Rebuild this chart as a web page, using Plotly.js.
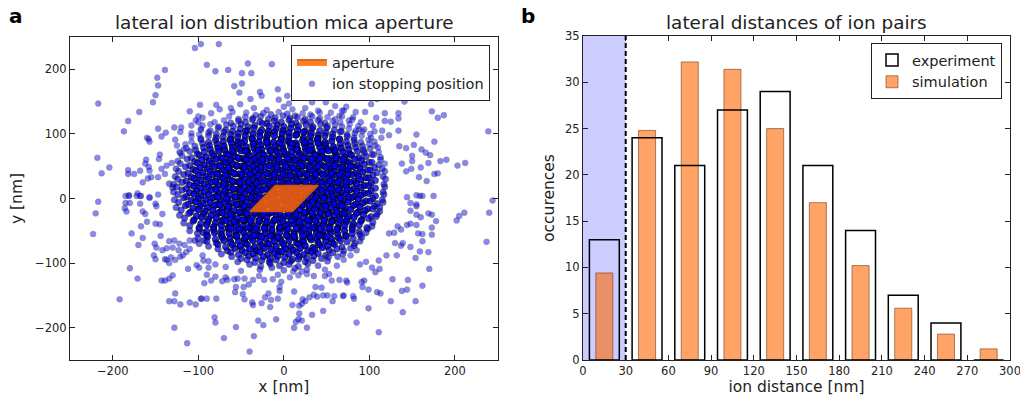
<!DOCTYPE html>
<html><head><meta charset="utf-8">
<script src="https://cdn.plot.ly/plotly-3.0.1.min.js"></script>
<style>html,body{margin:0;padding:0;background:#fff}#chart{width:1020px;height:398px}</style>
</head><body><div id="chart"></div>
<script>
// ---------- panel a : ion stopping positions (x,y pairs in nm, read/estimated from the picture) ----------
const ionOuterXY=[
-104,233,-97,239,-90,207,-139,199,-148,187,-147,175,-150,160,-153,149,-217,147,-169,134,-182,120,-187,104,-147,108,-138,102,-143,96,-160,94,-158,92,-157,88,-218,63,-204,48,-213,39,-182,44,-182,38,-175,38,-168,43,-161,60,-162,54,-158,49,-165,25,-159,31,-155,33,-181,5,-171,8,-168,4,-157,2,-128,110,-120,110,-121,103,-110,135,-98,145,-108,113,-103,121,-100,127,-97,106,-127,91,-125,82,-117,76,-122,72,-145,68,-146,61,-137,51,-131,55,-143,46,-147,33,-139,38,-134,23,-130,17,-157,43,
-76,239,-80,197,-65,199,-49,194,-42,209,-38,194,-14,208,-58,174,-49,178,-52,164,-28,165,-26,159,-39,154,-51,146,-62,140,-79,145,-7,169,-6,153,4,159,6,147,16,159,33,149,49,149,60,143,70,136,73,159,
141,150,116,159,109,154,102,146,95,134,81,126,72,156,173,135,180,125,187,129,239,104,134,132,134,124,125,119,118,132,134,105,123,98,135,81,143,78,152,83,155,99,161,76,176,88,166,71,171,67,183,58,190,60,203,51,212,55,160,48,169,55,176,38,180,39,158,33,167,27,155,5,162,4,175,4,150,66,150,58,138,54,143,42,149,46,115,105,106,104,104,113,108,125,118,120,114,94,88,107,84,134,73,142,68,136,
244,-3,240,-22,237,-67,211,-22,205,-27,202,-34,178,-35,169,-23,173,-25,173,-45,173,-56,162,-66,169,-83,159,-82,154,-92,170,-109,162,-135,154,-159,145,-126,144,-141,138,-143,139,-176,125,-159,127,-125,99,-170,85,-192,111,-207,82,-155,99,-141,92,-137,91,-129,94,-127,113,-147,109,-145,107,-114,103,-107,148,-75,137,-73,139,-69,130,-69,132,-88,123,-54,129,-53,137,-48,144,-41,148,-39,155,-41,157,-54,162,-55,155,-25,160,-29,155,-12,148,-19,159,4,133,-43,120,-88,111,-96,112,-109,96,-98,89,-102,74,-130,69,-151,81,-151,144,2,148,-7,155,-9,
-217,-5,-220,-23,-223,-55,-185,4,-181,4,-185,-7,-180,-7,-186,-15,-184,-20,-178,-54,-170,-72,-180,-108,-171,-124,-192,-156,-172,4,-167,4,-168,-8,-165,-20,-162,-24,-160,-36,-167,-43,-165,-61,-157,1,-150,-8,-147,6,-149,-12,-150,-39,-145,-40,-144,-58,-151,-70,-149,-76,-152,-88,-150,-94,-142,-24,-142,-80,-139,-94,-143,-127,-139,-127,-134,-124,-130,-119,-127,-147,-134,-159,-128,-159,-121,-164,-110,-161,-103,-164,-97,-155,-112,-109,-102,-103,-93,-131,-90,-118,-128,-200,-113,-224,-134,-100,-132,-91,-137,-95,-127,-95,-121,-90,-118,-88,-114,-83,-110,-78,-137,-77,-130,-76,-123,-80,-134,-66,-128,-65,-122,-70,-116,-72,-110,-65,-104,-65,-99,-70,-93,-65,-94,-53,-94,-96,-99,-107,-88,-107,
-40,-237,-70,-216,-35,-213,-56,-199,-81,-184,-80,-192,-30,-189,-24,-196,-9,-187,12,-200,14,-191,17,-187,18,-178,21,-189,27,-200,33,-180,46,-174,51,-150,46,-150,39,-152,35,-149,30,-153,25,-159,21,-163,18,-166,22,-156,37,-137,44,-138,57,-159,59,-151,70,-150,73,-127,65,-126,56,-127,53,-117,48,-120,35,-120,27,-117,21,-113,17,-119,12,-144,10,-165,-5,-143,-7,-155,-15,-157,-16,-168,-22,-153,-18,-147,-26,-162,-37,-161,-36,-165,-48,-148,-46,-156,-57,-145,-56,-137,-47,-137,-41,-133,-46,-124,-54,-124,-68,-122,-72,-128,-80,-121,-85,-127,-96,-155,-90,-155,-79,-155,-66,-126,-58,-125,-36,-126,-29,-120,-23,-126,-13,-125,-7,-118,-3,-129,-5,-137,7,-122,11,-113,
-88,-97,-80,-102,-95,-88,70,-95,78,-88,62,-104,-68,-106,48,-110,-50,-112,85,-80,-85,132,-75,138,-60,134,-35,140,-20,137,0,142,10,138,25,140,40,136,55,133,65,128,80,122,90,118,-95,125,-100,118
];
const ionCoreXY=[
-44,133,-33,129,-24,132,-15,130,-6,134,4,131,13,128,22,132,31,130,42,133,
-64,127,-53,123,-45,126,-36,124,-27,127,-18,123,-10,125,-1,128,7,124,16,126,25,123,33,127,42,124,51,126,60,123,68,127,
-81,118,-70,121,-62,117,-53,120,-45,118,-37,122,-28,119,-20,116,-11,120,-3,118,6,121,14,117,23,120,31,118,40,121,48,117,57,120,66,118,76,121,
-95,113,-86,115,-76,111,-67,114,-59,112,-50,115,-42,111,-34,113,-25,116,-17,112,-8,114,0,111,9,115,17,112,26,114,34,111,43,115,51,112,60,114,68,111,77,115,87,112,
-97,108,-86,105,-77,109,-68,106,-60,104,-51,108,-43,105,-35,109,-26,106,-18,104,-9,108,-1,105,8,109,16,106,25,104,33,108,42,105,50,109,59,106,67,104,76,108,84,105,94,107,
-108,101,-99,99,-88,102,-79,100,-70,103,-62,99,-53,101,-45,104,-36,100,-28,102,-19,99,-11,103,-2,100,6,102,15,99,23,103,32,101,40,98,49,102,57,100,66,103,74,99,83,101,92,104,101,100,
-108,96,-97,93,-88,97,-79,94,-71,96,-62,92,-54,95,-45,97,-37,93,-28,96,-20,94,-11,97,-3,93,6,95,14,98,23,94,31,96,40,93,48,97,57,95,65,92,74,96,82,94,91,97,102,94,
-108,88,-97,91,-88,87,-80,90,-71,88,-63,91,-54,87,-46,89,-37,92,-29,88,-20,90,-12,87,-3,91,5,89,14,86,22,90,31,88,39,91,48,87,56,89,65,92,73,88,82,90,90,87,99,91,106,88,
-115,84,-104,81,-95,85,-87,82,-78,84,-70,81,-61,85,-53,83,-44,80,-36,84,-27,82,-19,85,-10,81,-2,83,7,86,15,82,24,84,32,81,41,85,49,83,58,80,66,84,75,82,83,85,92,81,100,84,107,82,
-114,78,-103,75,-94,79,-86,76,-77,78,-69,75,-60,79,-52,77,-43,74,-35,78,-26,76,-18,79,-9,75,-1,77,8,80,16,76,25,78,33,75,42,79,50,77,59,74,67,78,76,76,84,79,93,75,101,77,110,79,
-121,70,-110,73,-101,69,-93,72,-84,70,-76,73,-67,69,-59,71,-50,74,-42,70,-33,72,-25,69,-16,73,-8,71,1,68,9,72,18,70,26,73,35,69,43,71,52,74,60,70,69,72,77,69,86,73,94,71,103,68,111,72,
-119,66,-108,63,-99,67,-91,64,-82,66,-74,63,-65,67,-57,65,-48,62,-40,66,-31,64,-23,67,-14,63,-6,65,3,68,11,64,20,66,28,63,37,67,45,65,54,62,62,66,71,64,79,67,88,63,96,65,105,68,113,64,
-124,58,-113,61,-104,57,-96,60,-87,58,-79,61,-70,57,-62,59,-53,62,-45,58,-36,60,-28,57,-19,61,-11,59,-2,56,6,60,15,58,23,61,32,57,40,59,49,62,57,58,66,60,74,57,83,61,91,59,100,56,113,60,
-121,54,-110,51,-101,55,-93,52,-84,54,-76,51,-67,55,-59,53,-50,50,-42,54,-33,52,-25,55,-16,51,-8,53,1,56,9,52,18,54,26,51,35,55,43,53,52,50,60,54,69,52,77,55,86,51,94,53,103,56,111,52,118,54,
-126,46,-115,49,-106,45,-98,48,-89,46,-81,49,-72,45,-64,47,-55,50,-47,46,-38,48,-30,45,-21,49,-13,47,-4,44,4,48,13,46,21,49,30,45,38,47,47,50,55,46,64,48,72,45,81,49,89,47,98,44,106,48,115,46,
-123,42,-112,39,-103,43,-95,40,-86,42,-78,39,-69,43,-61,41,-52,38,-44,42,-35,40,-27,43,-18,39,-10,41,-1,44,7,40,16,42,24,39,33,43,41,41,50,38,58,42,67,40,75,43,84,39,92,41,101,44,109,40,118,42,
-127,34,-117,37,-108,33,-100,36,-91,34,-83,37,-74,33,-66,35,-57,38,-49,34,-40,36,-32,33,-23,37,-15,35,-6,32,2,36,11,34,19,37,28,33,36,35,45,38,53,34,62,36,70,33,79,37,87,35,96,32,104,36,116,34,
-124,30,-114,27,-105,31,-97,28,-88,30,-80,27,-71,31,-63,29,-54,26,-46,30,-37,28,-29,31,-20,27,-12,29,-3,32,5,28,14,30,22,27,31,31,39,29,48,26,56,30,65,28,73,31,82,27,90,29,99,32,107,28,119,30,
-129,22,-119,25,-110,21,-102,24,-93,22,-85,25,-76,21,-68,23,-59,26,-51,22,-42,24,-34,21,-25,25,-17,23,-8,20,0,24,9,22,17,25,26,21,34,23,43,26,51,22,60,24,68,21,77,25,85,23,94,20,102,24,117,22,
-125,18,-114,15,-105,19,-97,16,-88,18,-80,15,-71,19,-63,17,-54,14,-46,18,-37,16,-29,19,-20,15,-12,17,-3,20,5,16,14,18,22,15,31,19,39,17,48,14,56,18,65,16,73,19,82,15,90,17,99,20,107,16,118,18,
-129,10,-119,13,-110,9,-102,12,-93,10,-85,13,-76,9,-68,11,-59,14,-51,10,-42,12,-34,9,-25,13,-17,11,-8,8,0,12,9,10,17,13,26,9,34,11,43,14,51,10,60,12,68,9,77,13,85,11,94,8,102,12,116,10,
-124,6,-114,3,-105,7,-97,4,-88,6,-80,3,-71,7,-63,5,-54,2,-46,6,-37,4,-29,7,-20,3,-12,5,-3,8,5,4,14,6,22,3,31,7,39,5,48,2,56,6,65,4,73,7,82,3,90,5,99,8,107,4,117,6,
-128,-2,-117,1,-108,-3,-100,0,-91,-2,-83,1,-74,-3,-66,-1,-57,2,-49,-2,-40,0,-32,-3,-23,1,-15,-1,-6,-4,2,0,11,-2,19,1,28,-3,36,-1,45,2,53,-2,62,0,70,-3,79,1,87,-1,96,-4,104,0,115,-2,
-123,-6,-112,-9,-103,-5,-95,-8,-86,-6,-78,-9,-69,-5,-61,-7,-52,-10,-44,-6,-35,-8,-27,-5,-18,-9,-10,-7,-1,-4,7,-8,16,-6,24,-9,33,-5,41,-7,50,-10,58,-6,67,-8,75,-5,84,-9,92,-7,101,-4,109,-8,116,-6,
-126,-14,-115,-11,-106,-15,-98,-12,-89,-14,-81,-11,-72,-15,-64,-13,-55,-10,-47,-14,-38,-12,-30,-15,-21,-11,-13,-13,-4,-16,4,-12,13,-14,21,-11,30,-15,38,-13,47,-10,55,-14,64,-12,72,-15,81,-11,89,-13,98,-16,106,-12,112,-14,
-120,-18,-109,-21,-100,-17,-92,-20,-83,-18,-75,-21,-66,-17,-58,-19,-49,-22,-41,-18,-32,-20,-24,-17,-15,-21,-7,-19,2,-16,10,-20,19,-18,27,-21,36,-17,44,-19,53,-22,61,-18,70,-20,78,-17,87,-21,95,-19,104,-16,112,-20,
-122,-26,-111,-23,-102,-27,-94,-24,-85,-26,-77,-23,-68,-27,-60,-25,-51,-22,-43,-26,-34,-24,-26,-27,-17,-23,-9,-25,0,-28,8,-24,17,-26,25,-23,34,-27,42,-25,51,-22,59,-26,68,-24,76,-27,85,-23,93,-25,102,-28,109,-24,
-116,-30,-105,-33,-96,-29,-88,-32,-79,-30,-71,-33,-62,-29,-54,-31,-45,-34,-37,-30,-28,-32,-20,-29,-11,-33,-3,-31,6,-28,14,-32,23,-30,31,-33,40,-29,48,-31,57,-34,65,-30,74,-32,82,-29,91,-33,99,-31,108,-28,
-117,-38,-106,-35,-97,-39,-89,-36,-80,-38,-72,-35,-63,-39,-55,-37,-46,-34,-38,-38,-29,-36,-21,-39,-12,-35,-4,-37,5,-40,13,-36,22,-38,30,-35,39,-39,47,-37,56,-34,64,-38,73,-36,81,-39,90,-35,104,-37,
-110,-42,-99,-45,-90,-41,-82,-44,-73,-42,-65,-45,-56,-41,-48,-43,-39,-46,-31,-42,-22,-44,-14,-41,-5,-45,3,-43,12,-40,20,-44,29,-42,37,-45,46,-41,54,-43,63,-46,71,-42,80,-44,88,-41,97,-45,103,-43,
-110,-50,-99,-47,-90,-51,-82,-48,-73,-50,-65,-47,-56,-51,-48,-49,-39,-46,-31,-50,-22,-48,-14,-51,-5,-47,3,-49,12,-52,20,-48,29,-50,37,-47,46,-51,54,-49,63,-46,71,-50,80,-48,88,-51,98,-47,
-101,-54,-90,-57,-81,-53,-73,-56,-64,-54,-56,-57,-47,-53,-39,-55,-30,-58,-22,-54,-13,-56,-5,-53,4,-57,12,-55,21,-52,29,-56,38,-54,46,-57,55,-53,63,-55,72,-58,80,-54,89,-56,96,-53,
-100,-62,-89,-59,-80,-63,-72,-60,-63,-62,-55,-59,-46,-63,-38,-61,-29,-58,-21,-62,-12,-60,-4,-63,5,-59,13,-61,22,-64,30,-60,39,-62,47,-59,56,-63,64,-61,73,-58,81,-62,91,-60,
-90,-66,-79,-69,-70,-65,-62,-68,-53,-66,-45,-69,-36,-65,-28,-67,-19,-70,-11,-66,-2,-68,6,-65,15,-69,23,-67,32,-64,40,-68,49,-66,57,-69,66,-65,74,-67,83,-70,89,-66,
-88,-74,-77,-71,-68,-75,-60,-72,-51,-74,-43,-71,-34,-75,-26,-73,-17,-70,-9,-74,0,-72,8,-75,17,-71,25,-73,34,-76,42,-72,51,-74,59,-71,68,-75,82,-73,
-77,-78,-66,-81,-57,-77,-49,-80,-40,-78,-32,-81,-23,-77,-15,-79,-6,-82,2,-78,11,-80,19,-77,28,-81,36,-79,45,-76,53,-80,62,-78,70,-81,78,-77,
-73,-86,-62,-83,-53,-87,-45,-84,-36,-86,-28,-83,-19,-87,-11,-85,-2,-82,6,-86,15,-84,23,-87,32,-83,40,-85,49,-88,57,-84,69,-86,
-61,-90,-50,-93,-41,-89,-33,-92,-24,-90,-16,-93,-7,-89,1,-91,10,-94,18,-90,27,-92,35,-89,44,-93,52,-91,63,-90,
-54,-98,-43,-95,-34,-99,-26,-96,-17,-98,-9,-95,0,-99,8,-97,17,-94,25,-98,34,-96,51,-97,
-40,-102,-27,-105,-16,-101,-5,-104,6,-102,17,-105,28,-101,40,-104,
-28,-110,-14,-107,0,-111,13,-108,27,-110,
-50,86,-35,85,-20,87,-5,86,10,85,25,87,40,86,
-60,74,-45,73,-30,75,-15,74,0,73,15,75,30,74,45,73,60,75,
-72,62,-63,60,-53,63,-44,61,-34,62,-25,60,-15,63,-6,61,4,62,13,60,23,63,32,61,42,62,51,60,61,63,70,61,
-74,50,-65,48,-55,51,-46,49,-36,50,-27,48,-17,51,-8,49,2,50,11,48,21,51,30,49,40,50,49,48,59,51,68,49,78,50,
-78,38,-68,36,-58,39,-49,37,-39,38,-30,36,-20,39,-11,37,-1,38,8,36,18,39,27,37,37,38,46,36,56,39,65,37,75,38,
-80,26,-70,24,-60,27,-51,25,-41,26,-32,24,-22,27,-13,25,-3,26,6,24,16,27,25,25,35,26,44,24,54,27,63,25,73,26,
-79,14,-69,12,-59,15,-50,13,-40,14,-31,12,-21,15,-12,13,-2,14,7,12,17,15,26,13,36,14,45,12,55,15,64,13,74,14,
-77,2,-67,0,-57,3,-48,1,-38,2,-29,0,-19,3,-10,1,0,2,9,0,19,3,28,1,38,2,47,0,57,3,66,1,76,2,
-75,-10,-65,-12,-55,-9,-46,-11,-36,-10,-27,-12,-17,-9,-8,-11,2,-10,11,-12,21,-9,30,-11,40,-10,49,-12,59,-9,68,-11,
-72,-22,-62,-24,-52,-21,-43,-23,-33,-22,-24,-24,-14,-21,-5,-23,5,-22,14,-24,24,-21,33,-23,43,-22,52,-24,62,-21,71,-23,
-68,-34,-58,-36,-48,-33,-39,-35,-29,-34,-20,-36,-10,-33,-1,-35,9,-34,18,-36,28,-33,37,-35,47,-34,56,-36,66,-33,
-62,-46,-52,-48,-42,-45,-33,-47,-23,-46,-14,-48,-4,-45,5,-47,15,-46,24,-48,34,-45,43,-47,53,-46,62,-48,
-55,-58,-45,-60,-35,-57,-26,-59,-16,-58,-7,-60,3,-57,12,-59,22,-58,31,-60,41,-57,50,-59
];
// aperture rhombus corners (nm)
const apertureX=[-40,10,40,-10,-40];
const apertureY=[-20,-20,20,20,-20];
const ticksA=[-200,-100,0,100,200];

// ---------- panel b : histogram of ion pair distances ----------
const binCenters=[15,45,75,105,135,165,195,225,255,285];
const experiment=[13,24,21,27,29,21,14,7,4,0];
const simulation=[9.4,24.8,32.2,31.4,25.0,17.0,10.2,5.6,2.8,1.2];
const ticksBx=[0,30,60,90,120,150,180,210,240,270,300];
const ticksBy=[0,5,10,15,20,25,30,35];
const excludedRange=[0,30];

const ionX=[],ionY=[];
[ionOuterXY,ionCoreXY].forEach(a=>{for(let i=0;i<a.length;i+=2){ionX.push(a[i]);ionY.push(a[i+1]);}});
// crowded middle: where many ions overlap the picture turns dark; a second pass of the same
// points, with a darker look towards the middle, renders that build-up
const crowdX=[],crowdY=[],crowdOp=[];
ionX.forEach((x,i)=>{
  const q=Math.hypot((x+5)/125,(ionY[i]-10)/118);
  if(q<1.05){crowdX.push(x);crowdY.push(ionY[i]);crowdOp.push(q<0.8?0.85:Math.max(0.1,0.85-(q-0.8)*3));}
});

const F='"DejaVu Sans", "Liberation Sans", sans-serif';
const W=1020,H=398;
const dark='#222';

const traces=[
 {type:'scatter',mode:'markers',x:ionX,y:ionY,xaxis:'x',yaxis:'y',name:'ion stopping position',legend:'legend',legendrank:2,
  marker:{size:5.8,color:'rgb(0,0,255)',opacity:0.47,line:{color:'#000',width:0.6}},hoverinfo:'skip'},
 {type:'scatter',mode:'markers',x:crowdX,y:crowdY,xaxis:'x',yaxis:'y',showlegend:false,hoverinfo:'skip',
  marker:{size:6.4,color:'rgb(0,0,235)',opacity:crowdOp,line:{color:'#000',width:0.9}}},
 {type:'scatter',mode:'lines',x:apertureX,y:apertureY,xaxis:'x',yaxis:'y',fill:'toself',fillcolor:'rgba(255,102,0,0.85)',
  line:{color:'rgb(205,85,10)',width:1.5},name:'aperture',legend:'legend',legendrank:1},
 {type:'bar',x:binCenters,y:simulation,width:12,xaxis:'x2',yaxis:'y2',name:'simulation',legend:'legend2',legendrank:2,
  marker:{color:'rgba(255,102,0,0.6)',line:{color:'rgba(120,60,20,0.6)',width:1}}},
 {type:'bar',x:binCenters,y:experiment,width:21,xaxis:'x2',yaxis:'y2',name:'experiment',legend:'legend2',legendrank:1,
  marker:{color:'rgba(255,255,255,0)',line:{color:'#000',width:1.5}}}
];

const axBase={showline:true,linecolor:dark,linewidth:1,mirror:'ticks',ticks:'inside',ticklen:5,tickcolor:dark,
  showgrid:false,zeroline:false,ticklabeloverflow:'allow',tickfont:{family:F,size:11.5,color:dark}};

const layout={
 width:W,height:H,margin:{l:0,r:0,t:0,b:0},paper_bgcolor:'#fff',plot_bgcolor:'#fff',
 font:{family:F,color:dark},barmode:'overlay',showlegend:true,
 xaxis:Object.assign({},axBase,{domain:[70/W,497.7/W],range:[-250,250],tickvals:ticksA,anchor:'y',
   title:{text:'x [nm]',font:{family:F,size:15.5,color:dark},standoff:3}}),
 yaxis:Object.assign({},axBase,{domain:[1-360/H,1-37/H],range:[-250,250],tickvals:ticksA,anchor:'x',
   title:{text:'y [nm]',font:{family:F,size:15.5,color:dark},standoff:8}}),
 xaxis2:Object.assign({},axBase,{domain:[583/W,1010/W],range:[0,300],tickvals:ticksBx,anchor:'y2',
   title:{text:'ion distance [nm]',font:{family:F,size:15.5,color:dark},standoff:3}}),
 yaxis2:Object.assign({},axBase,{domain:[1-360/H,1-36/H],range:[0,35],tickvals:ticksBy,anchor:'x2',
   title:{text:'occurences',font:{family:F,size:15.5,color:dark},standoff:6}}),
 legend:{x:490/W,y:1-45/H,xanchor:'right',yanchor:'top',bgcolor:'#fff',bordercolor:dark,borderwidth:1,
   font:{family:F,size:14.5,color:dark},traceorder:'normal',tracegroupgap:0},
 legend2:{x:1002/W,y:1-43/H,xanchor:'right',yanchor:'top',bgcolor:'#fff',bordercolor:dark,borderwidth:1,
   font:{family:F,size:14.5,color:dark},traceorder:'normal',tracegroupgap:0},
 shapes:[
  {type:'rect',xref:'x2',yref:'y2 domain',x0:excludedRange[0],x1:excludedRange[1],y0:0,y1:1,
   fillcolor:'rgb(204,204,255)',line:{width:0},layer:'below'},
  {type:'line',xref:'x2',yref:'y2 domain',x0:excludedRange[1],x1:excludedRange[1],y0:0,y1:1,
   line:{color:'#000',width:2,dash:'5px,3px'},layer:'above'}
 ],
 annotations:[
  {text:'lateral ion distribution mica aperture',xref:'paper',yref:'paper',x:284/W,y:1-23/H,xanchor:'center',yanchor:'middle',showarrow:false,font:{family:F,size:18.4,color:dark}},
  {text:'lateral distances of ion pairs',xref:'paper',yref:'paper',x:796/W,y:1-23/H,xanchor:'center',yanchor:'middle',showarrow:false,font:{family:F,size:18.4,color:dark}},
  {text:'<b>a</b>',xref:'paper',yref:'paper',x:16/W,y:1-16/H,xanchor:'center',yanchor:'middle',showarrow:false,font:{family:F,size:20,color:'#000'}},
  {text:'<b>b</b>',xref:'paper',yref:'paper',x:528/W,y:1-16/H,xanchor:'center',yanchor:'middle',showarrow:false,font:{family:F,size:20,color:'#000'}}
 ]
};
Plotly.newPlot('chart',traces,layout,{displayModeBar:false,staticPlot:true});
</script></body></html>
